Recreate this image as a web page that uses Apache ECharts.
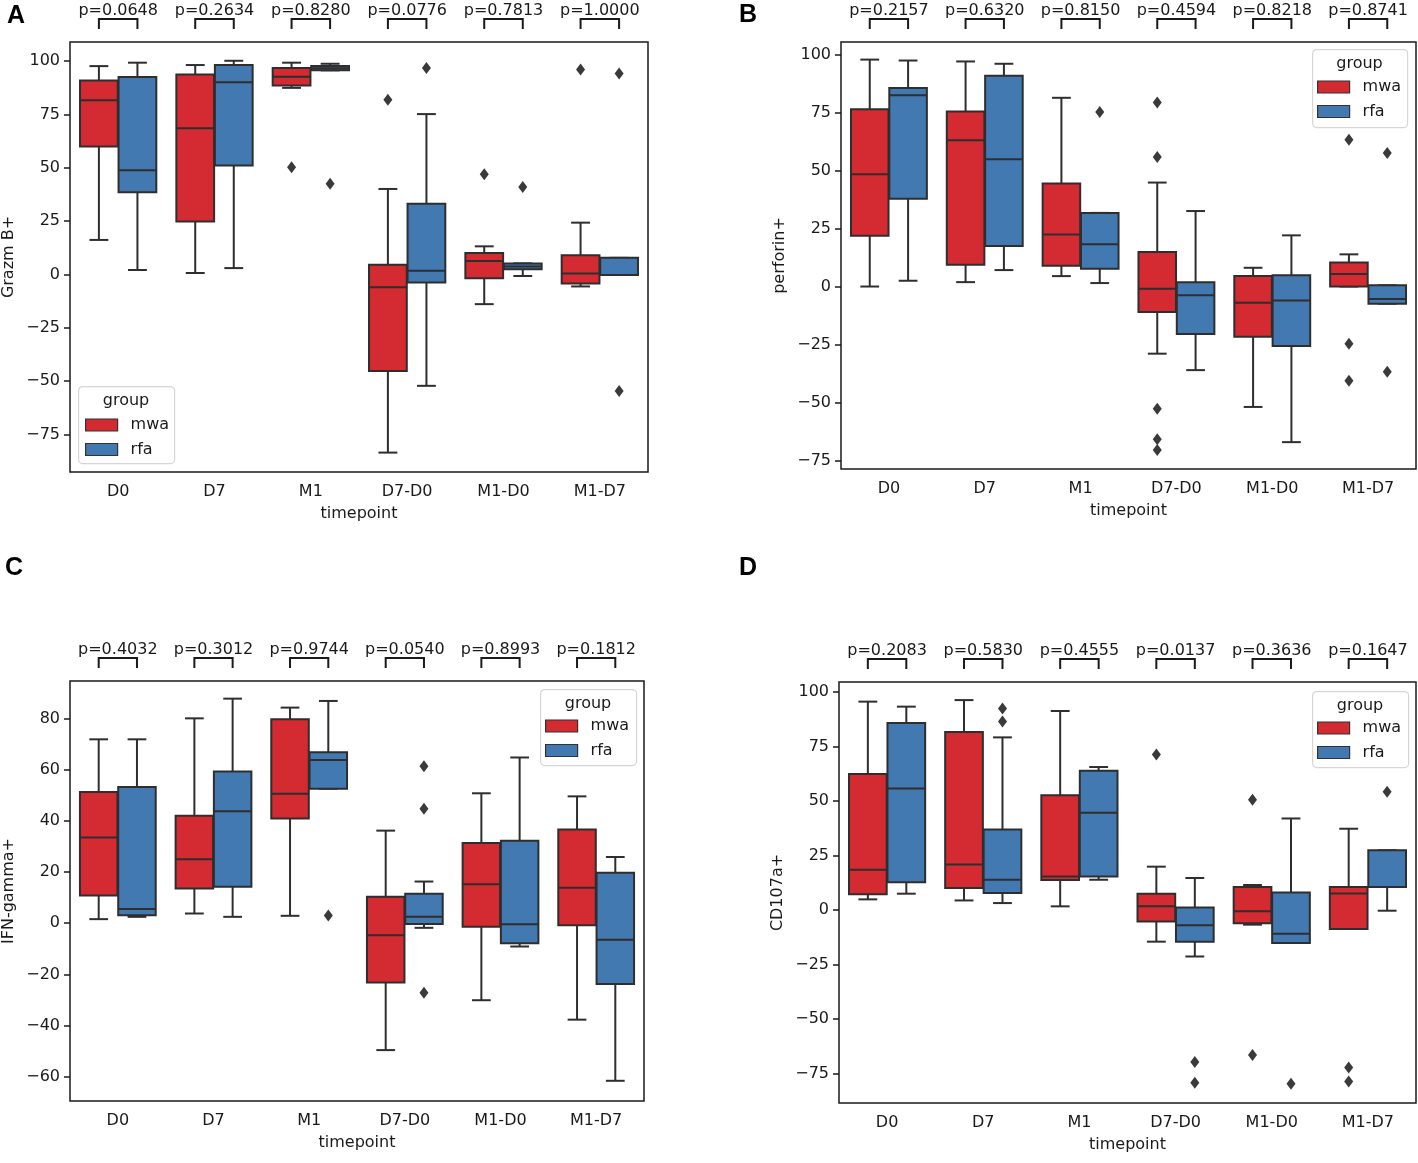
<!DOCTYPE html>
<html>
<head>
<meta charset="utf-8">
<script src="https://cdn.jsdelivr.net/npm/echarts@6/dist/echarts.min.js"></script>
</head>
<body style="margin: 0">
<div id="container" style="width: 1418px; height: 1163px"></div>
<script>
// timepoints on the x axis
var categories = ['D0', 'D7', 'M1', 'D7-D0', 'M1-D0', 'M1-D7'];

// each box: [low whisker, Q1, median, Q3, high whisker], one per timepoint
var grazmMwa = [[16.2, 60.0, 81.7, 90.9, 97.7], [0.7, 24.8, 68.6, 93.8, 98.2], [87.5, 88.6, 92.7, 96.8, 99.3],
  [-83.5, -45.2, -6.0, 4.6, 40.1], [-13.9, -1.8, 6.3, 10.1, 13.2], [-5.6, -4.2, 0.5, 9.0, 24.3]];
var grazmRfa = [[2.1, 38.5, 48.9, 92.6, 99.3], [3.0, 51.1, 90.1, 98.2, 100.2], [95.7, 95.7, 96.7, 97.7, 98.8],
  [-52.2, -3.7, 1.8, 33.2, 75.2], [-0.7, 2.4, 3.8, 5.2, 5.2], [-0.2, -0.2, -0.2, 7.8, 7.8]];
var grazmMwaOut = [[2, 50.3], [3, 81.9], [4, 47.0], [5, 96.1]];
var grazmRfaOut = [[2, 42.6], [3, 96.8], [4, 41.0], [5, 94.2], [5, -54.6]];
var grazmP = [0.0648, 0.2634, 0.8280, 0.0776, 0.7813, 1.0000];

var perfMwa = [[0.1, 22.0, 48.6, 76.7, 98.1], [2.0, 9.5, 63.3, 75.7, 97.3], [4.6, 9.1, 22.6, 44.6, 81.6],
  [-28.9, -10.9, -0.9, 15.0, 45.0], [-51.9, -21.6, -6.9, 4.6, 8.2], [0.1, 0.1, 5.5, 10.5, 14.0]];
var perfRfa = [[2.6, 38.0, 82.7, 85.8, 97.7], [7.2, 17.6, 55.1, 91.1, 96.3], [1.6, 7.8, 18.4, 31.9, 31.9],
  [-36.0, -20.4, -3.7, 2.0, 32.7], [-67.1, -25.6, -5.9, 5.0, 22.2], [-7.3, -7.3, -5.3, 0.6, 0.6]];
var perfMwaOut = [[3, 79.6], [3, 56.0], [3, -52.7], [3, -65.9], [3, -70.5], [5, 63.5], [5, -24.6], [5, -40.6]];
var perfRfaOut = [[2, 75.5], [5, 57.8], [5, -36.7]];
var perfP = [0.2157, 0.6320, 0.8150, 0.4594, 0.8218, 0.8741];

var ifnMwa = [[1.6, 10.8, 33.5, 51.3, 71.9], [3.8, 13.6, 25.0, 42.0, 80.1], [2.9, 40.9, 50.6, 79.7, 84.3],
  [-49.6, -23.2, -4.7, 10.4, 36.2], [-30.1, -1.4, 15.2, 31.4, 50.8], [-37.7, -0.8, 13.9, 36.6, 49.6]];
var ifnRfa = [[2.5, 3.1, 5.6, 53.3, 71.9], [2.5, 14.3, 43.8, 59.3, 87.8], [52.6, 52.6, 63.8, 66.8, 86.9],
  [-1.8, -0.3, 2.5, 11.5, 16.3], [-9.1, -7.8, -0.4, 32.2, 64.8], [-61.6, -23.8, -6.5, 19.7, 25.9]];
var ifnMwaOut = [];
var ifnRfaOut = [[2, 3.0], [3, 61.4], [3, 44.8], [3, -27.2]];
var ifnP = [0.4032, 0.3012, 0.9744, 0.0540, 0.8993, 0.1812];

var cdMwa = [[4.9, 7.3, 18.5, 62.4, 95.6], [4.4, 10.1, 20.9, 81.7, 96.3], [1.7, 13.8, 15.4, 52.6, 91.3],
  [-14.5, -5.2, 1.7, 7.5, 19.9], [-6.7, -6.0, -0.5, 10.6, 11.5], [-8.7, -8.7, 7.6, 10.6, 37.3]];
var cdRfa = [[7.5, 12.7, 55.7, 85.8, 93.3], [3.2, 7.8, 13.9, 36.9, 79.2], [13.9, 15.4, 44.6, 63.9, 65.6],
  [-21.3, -14.5, -7.0, 1.2, 14.7], [-15.1, -15.1, -10.9, 8.0, 42.0], [-0.3, 10.6, 10.6, 27.4, 27.4]];
var cdMwaOut = [[3, 71.4], [4, 50.6], [4, -66.5], [5, -72.2], [5, -78.6]];
var cdRfaOut = [[1, 92.4], [1, 86.5], [3, -69.7], [3, -79.2], [4, -79.7], [5, 54.3]];
var cdP = [0.2083, 0.5830, 0.4555, 0.0137, 0.3636, 0.1647];

var ticks25 = [-75, -50, -25, 0, 25, 50, 75, 100];
var ticks20 = [-60, -40, -20, 0, 20, 40, 60, 80];

var RED = '#d42a31';
var BLUE = '#4279b0';
var EDGE = '#2e2e2e';
var INK = '#1a1a1a';
var FONT = 'DejaVu Sans';

var panels = [
  { letter: 'A', yName: 'Grazm B+', mwa: grazmMwa, rfa: grazmRfa, mwaOut: grazmMwaOut, rfaOut: grazmRfaOut, p: grazmP,
    ticks: ticks25, yMin: -92.6, yMax: 109.0, grid: [70, 42, 578, 430], letterPos: [7, 16],
    legendBox: [78, 386, 96, 77], legendItems: [85, 417] },
  { letter: 'B', yName: 'perforin+', mwa: perfMwa, rfa: perfRfa, mwaOut: perfMwaOut, rfaOut: perfRfaOut, p: perfP,
    ticks: ticks25, yMin: -78.7, yMax: 105.7, grid: [841, 42, 575, 427], letterPos: [739, 15],
    legendBox: [1312, 49, 95, 78], legendItems: [1317, 79] },
  { letter: 'C', yName: 'IFN-gamma+', mwa: ifnMwa, rfa: ifnRfa, mwaOut: ifnMwaOut, rfaOut: ifnRfaOut, p: ifnP,
    ticks: ticks20, yMin: -69.5, yMax: 94.7, grid: [70, 681, 574, 420], letterPos: [5, 568],
    legendBox: [540, 689, 96, 76], legendItems: [545, 718] },
  { letter: 'D', yName: 'CD107a+', mwa: cdMwa, rfa: cdRfa, mwaOut: cdMwaOut, rfaOut: cdRfaOut, p: cdP,
    ticks: ticks25, yMin: -88.5, yMax: 104.6, grid: [839, 682, 577, 421], letterPos: [739, 568],
    legendBox: [1312, 691, 96, 76], legendItems: [1317, 720] }
];

function minusFmt(v) {
  return v < 0 ? '\u2212' + Math.abs(v) : String(v);
}

// seaborn-like box: dodge by 0.2 of the band, box 0.392 of the band, caps half the box
function boxRenderer(side, fill) {
  return function (params, api) {
    var c = api.value(0);
    var band = api.size([1, 0])[0];
    var cx = api.coord([c, 0])[0] + side * 0.2 * band;
    var w = 0.392 * band;
    var y = [1, 2, 3, 4, 5].map(function (d) { return api.coord([c, api.value(d)])[1]; });
    var ls = { stroke: EDGE, lineWidth: 2 };
    return {
      type: 'group',
      children: [
        { type: 'line', shape: { x1: cx, y1: y[0], x2: cx, y2: y[1] }, style: ls },
        { type: 'line', shape: { x1: cx, y1: y[3], x2: cx, y2: y[4] }, style: ls },
        { type: 'line', shape: { x1: cx - w / 4, y1: y[0], x2: cx + w / 4, y2: y[0] }, style: ls },
        { type: 'line', shape: { x1: cx - w / 4, y1: y[4], x2: cx + w / 4, y2: y[4] }, style: ls },
        { type: 'rect', shape: { x: cx - w / 2, y: y[3], width: w, height: y[1] - y[3] },
          style: { fill: fill, stroke: EDGE, lineWidth: 2 } },
        { type: 'line', shape: { x1: cx - w / 2, y1: y[2], x2: cx + w / 2, y2: y[2] }, style: ls }
      ]
    };
  };
}

function outlierRenderer(side) {
  return function (params, api) {
    var c = api.value(0);
    var band = api.size([1, 0])[0];
    var pt = api.coord([c, api.value(1)]);
    var x = pt[0] + side * 0.2 * band;
    var y = pt[1];
    return {
      type: 'polygon',
      shape: { points: [[x, y - 6], [x + 4.5, y], [x, y + 6], [x - 4.5, y]] },
      style: { fill: '#3a3a3a' }
    };
  };
}

function bracketRenderer(params, api) {
  var c = api.value(0);
  var band = api.size([1, 0])[0];
  var cx = api.coord([c, 0])[0];
  var top = params.coordSys.y;
  var x1 = cx - 0.2 * band, x2 = cx + 0.2 * band;
  return {
    type: 'group',
    children: [
      { type: 'polyline', shape: { points: [[x1, top - 13], [x1, top - 23], [x2, top - 23], [x2, top - 13]] },
        style: { stroke: INK, lineWidth: 2, fill: null } },
      { type: 'text', style: { text: 'p=' + api.value(1).toFixed(4), x: cx, y: top - 31,
        align: 'center', verticalAlign: 'middle', fontSize: 16, fontFamily: FONT, fill: INK } }
    ]
  };
}

var option = {
  animation: false,
  color: [RED, BLUE],
  grid: [], xAxis: [], yAxis: [], series: [], legend: [],
  graphic: { elements: [] }
};

panels.forEach(function (pn, k) {
  option.grid.push({
    left: pn.grid[0], top: pn.grid[1], width: pn.grid[2], height: pn.grid[3],
    show: true, borderColor: INK, borderWidth: 1.5, backgroundColor: 'transparent',
    containLabel: false, outerBoundsMode: 'none'
  });
  option.xAxis.push({
    type: 'category', gridIndex: k, data: categories,
    name: 'timepoint', nameLocation: 'middle', nameGap: 34,
    nameTextStyle: { fontSize: 16, color: INK, fontFamily: FONT },
    axisLine: { show: false },
    axisTick: { alignWithLabel: true, length: 6, lineStyle: { color: INK, width: 1.5 } },
    axisLabel: { fontSize: 16, color: INK, fontFamily: FONT, margin: 12 },
    splitLine: { show: false }
  });
  option.yAxis.push({
    type: 'value', gridIndex: k, min: pn.yMin, max: pn.yMax,
    name: pn.yName, nameLocation: 'middle', nameGap: 53,
    nameTextStyle: { fontSize: 16, color: INK, fontFamily: FONT },
    axisLine: { show: false },
    axisTick: { show: true, length: 6, customValues: pn.ticks, lineStyle: { color: INK, width: 1.5 } },
    axisLabel: { fontSize: 16, color: INK, fontFamily: FONT, margin: 10, customValues: pn.ticks, formatter: minusFmt },
    splitLine: { show: false }
  });

  var toItems = function (arr) { return arr.map(function (d, i) { return [i].concat(d); }); };
  option.series.push({
    type: 'custom', name: 'mwa', xAxisIndex: k, yAxisIndex: k, clip: false,
    itemStyle: { color: RED }, encode: { x: 0, y: [1, 2, 3, 4, 5] },
    renderItem: boxRenderer(-1, RED), data: toItems(pn.mwa)
  });
  option.series.push({
    type: 'custom', name: 'rfa', xAxisIndex: k, yAxisIndex: k, clip: false,
    itemStyle: { color: BLUE }, encode: { x: 0, y: [1, 2, 3, 4, 5] },
    renderItem: boxRenderer(1, BLUE), data: toItems(pn.rfa)
  });
  option.series.push({
    type: 'custom', name: 'mwa outliers', xAxisIndex: k, yAxisIndex: k, z: 3,
    encode: { x: 0, y: 1 }, renderItem: outlierRenderer(-1), data: pn.mwaOut
  });
  option.series.push({
    type: 'custom', name: 'rfa outliers', xAxisIndex: k, yAxisIndex: k, z: 3,
    encode: { x: 0, y: 1 }, renderItem: outlierRenderer(1), data: pn.rfaOut
  });
  option.series.push({
    type: 'custom', name: 'p values', xAxisIndex: k, yAxisIndex: k, clip: false,
    encode: { x: 0, y: 1 }, renderItem: bracketRenderer,
    data: pn.p.map(function (v, i) { return [i, v]; })
  });

  option.legend.push({
    data: ['mwa', 'rfa'], orient: 'vertical', left: pn.legendItems[0], top: pn.legendItems[1],
    icon: 'rect', itemWidth: 32, itemHeight: 12, itemGap: 8.5, selectedMode: false, padding: 0,
    itemStyle: { borderColor: '#333', borderWidth: 1.2 },
    textStyle: { fontSize: 16, color: INK, fontFamily: FONT, lineHeight: 14, padding: [0, 0, 0, 8] }
  });

  var lb = pn.legendBox;
  option.graphic.elements.push({
    type: 'rect', left: lb[0], top: lb[1], z: 1,
    shape: { width: lb[2], height: lb[3], r: 4 },
    style: { fill: '#ffffff', stroke: '#d6d6d6', lineWidth: 1.2 }
  });
  option.graphic.elements.push({
    type: 'text', x: lb[0] + lb[2] / 2, y: lb[1] + 15, z: 5,
    style: { text: 'group', align: 'center', verticalAlign: 'middle', fontSize: 16, fontFamily: FONT, fill: INK }
  });
  option.graphic.elements.push({
    type: 'text', x: pn.letterPos[0], y: pn.letterPos[1], z: 5,
    style: { text: pn.letter, align: 'left', verticalAlign: 'middle', fontSize: 25, fontWeight: 'bold',
      fontFamily: 'Liberation Sans', fill: '#000' }
  });
});

var myChart = echarts.init(document.getElementById('container'));
myChart.setOption(option);
</script>
</body>
</html>
